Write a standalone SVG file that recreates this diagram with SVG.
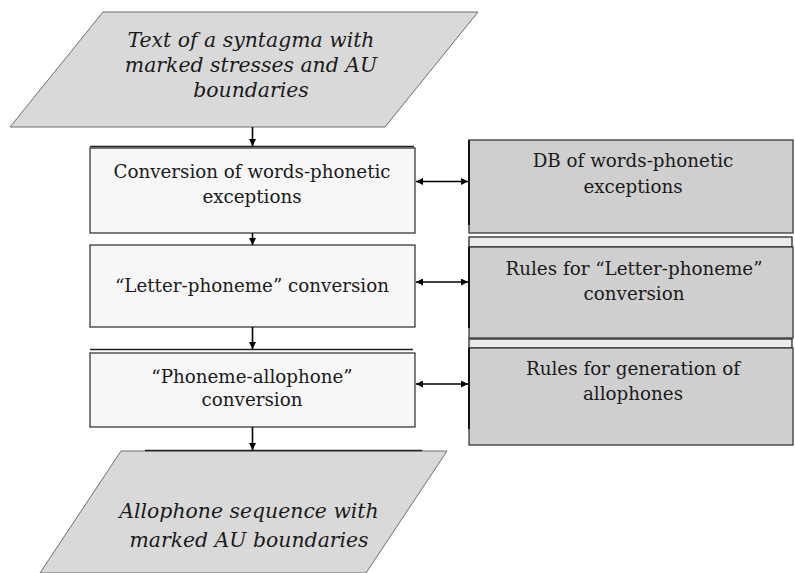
<svg xmlns="http://www.w3.org/2000/svg" width="795" height="573" viewBox="0 0 795 573">
  <style>
    .io { fill: #d9d9d9; stroke: #6e6e6e; stroke-width: 1; }
    .step { fill: #f7f7f7; stroke: #3a3a3a; stroke-width: 1.3; }
    .store { fill: #cfcfcf; stroke: #3a3a3a; stroke-width: 1.3; }
    .tab { fill: #ebebeb; stroke: #2a2a2a; stroke-width: 1.3; }
    .edge { stroke: #000; stroke-width: 1.6; fill: none; }
    .t { font-family: 'DejaVu Serif', 'Liberation Serif', serif; font-size: 18.3px; fill: #1a1a1a; text-anchor: middle; }
    .ti { font-family: 'DejaVu Serif', 'Liberation Serif', serif; font-size: 20.4px; font-style: italic; fill: #1a1a1a; text-anchor: middle; }
  </style>
  <defs>
    <marker id="arr" viewBox="0 0 10 10" refX="10" refY="5" markerWidth="7" markerHeight="7" markerUnits="userSpaceOnUse" orient="auto-start-reverse">
      <path d="M0,0 L10,5 L0,10 z" fill="#000"/>
    </marker>
  </defs>

  <rect width="795" height="573" fill="#fff"/>

  <!-- input: stressed syntagma -->
  <g id="input">
    <polygon class="io" points="103,12 478,12 385,127 10,127"/>
    <text class="ti" x="251" y="47">Text of a syntagma with</text>
    <text class="ti" x="251" y="72">marked stresses and AU</text>
    <text class="ti" x="251" y="97">boundaries</text>
  </g>

  <!-- processing steps -->
  <g id="step-exceptions">
    <rect class="step" x="90" y="148" width="325" height="85"/>
    <line x1="90" y1="146.5" x2="414" y2="146.5" stroke="#222" stroke-width="1.6"/>
    <text class="t" x="252" y="178">Conversion of words-phonetic</text>
    <text class="t" x="252" y="203">exceptions</text>
  </g>

  <g id="step-letter-phoneme">
    <rect class="step" x="90" y="245" width="325" height="82"/>
    <text class="t" x="252" y="292">“Letter-phoneme” conversion</text>
  </g>

  <g id="step-phoneme-allophone">
    <rect class="step" x="90" y="353" width="325" height="74"/>
    <line x1="90" y1="349.5" x2="413" y2="349.5" stroke="#222" stroke-width="1.6"/>
    <text class="t" x="252" y="383">“Phoneme-allophone”</text>
    <text class="t" x="252" y="406">conversion</text>
  </g>

  <!-- data sources -->
  <g id="db-exceptions">
    <rect class="store" x="469" y="140" width="324" height="93"/>
    <line x1="469" y1="140" x2="469" y2="225" stroke="#111" stroke-width="2"/>
    <text class="t" x="633" y="167">DB of words-phonetic</text>
    <text class="t" x="633" y="193">exceptions</text>
  </g>

  <g id="rules-letter-phoneme">
    <rect class="tab" x="469" y="237" width="323" height="10"/>
    <rect class="store" x="469" y="247" width="324" height="91"/>
    <line x1="469" y1="247" x2="469" y2="328" stroke="#111" stroke-width="2"/>
    <text class="t" x="634" y="275">Rules for “Letter-phoneme”</text>
    <text class="t" x="634" y="300">conversion</text>
  </g>

  <g id="rules-allophones">
    <rect class="tab" x="469" y="339" width="323" height="9"/>
    <rect class="store" x="469" y="348" width="324" height="97"/>
    <line x1="469" y1="348" x2="469" y2="429" stroke="#111" stroke-width="2"/>
    <text class="t" x="633" y="375">Rules for generation of</text>
    <text class="t" x="633" y="400">allophones</text>
  </g>

  <!-- output: allophone sequence -->
  <g id="output">
    <polygon class="io" points="121,451 447,451 366,573 40,573"/>
    <line x1="145" y1="450.5" x2="422" y2="450.5" stroke="#222" stroke-width="1.6"/>
    <text class="ti" x="249" y="518">Allophone sequence with</text>
    <text class="ti" x="249" y="547">marked AU boundaries</text>
  </g>

  <!-- connectors -->
  <g id="connectors">
    <line class="edge" x1="252.5" y1="127" x2="252.5" y2="146" marker-end="url(#arr)"/>
    <line class="edge" x1="252.5" y1="233" x2="252.5" y2="245" marker-end="url(#arr)"/>
    <line class="edge" x1="252.5" y1="327" x2="252.5" y2="349" marker-end="url(#arr)"/>
    <line class="edge" x1="252.5" y1="427" x2="252.5" y2="450" marker-end="url(#arr)"/>
    <line class="edge" x1="416" y1="181.5" x2="468" y2="181.5" marker-start="url(#arr)" marker-end="url(#arr)"/>
    <line class="edge" x1="416" y1="282" x2="468" y2="282" marker-start="url(#arr)" marker-end="url(#arr)"/>
    <line class="edge" x1="416" y1="384" x2="468" y2="384" marker-start="url(#arr)" marker-end="url(#arr)"/>
  </g>
</svg>
